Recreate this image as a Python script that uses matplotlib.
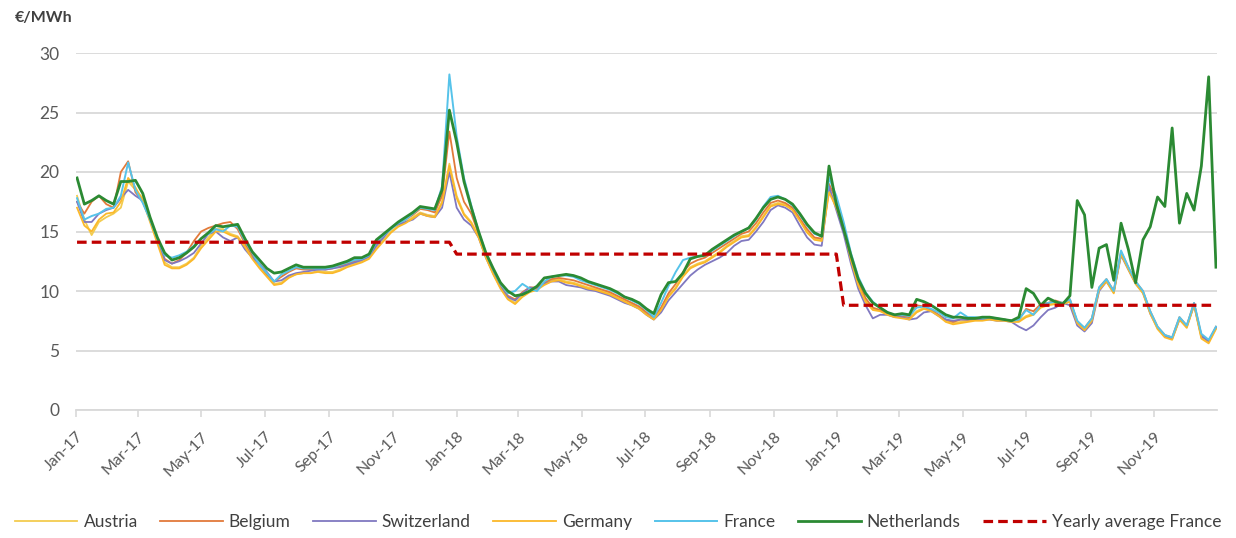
import numpy as np
import pandas as pd
import matplotlib
matplotlib.use("Agg")
import matplotlib.pyplot as plt
import matplotlib.dates as mdates

plt.rcParams["font.family"] = ["Lato", "DejaVu Sans"]

# ===== Data: weekly prices (EUR/MWh), Jan-2017 .. Dec-2019 =====
weeks = pd.date_range("2017-01-02", periods=157, freq="7D")

austria = [
    18.0, 16.0, 14.7, 15.8, 16.2, 16.5, 17.0, 19.2, 18.5, 17.8, 16.0, 14.2, 12.4, 12.0, 12.0, 12.3, 12.8, 13.8, 14.5, 15.2, 15.2, 14.8,
    14.6, 13.8, 12.8, 12.0, 11.3, 10.6, 10.7, 11.2, 11.4, 11.5, 11.5, 11.7, 11.6, 11.6, 11.8, 12.1, 12.3, 12.5, 12.8, 13.6, 14.3, 15.0, 15.5, 15.8,
    16.2, 16.6, 16.4, 16.3, 17.5, 20.7, 18.0, 16.5, 15.8, 14.6, 12.9, 11.5, 10.3, 9.4, 9.0, 9.6, 10.0, 10.2, 10.6, 10.9, 11.0,
    10.8, 10.7, 10.5, 10.3, 10.2, 10.0, 9.8, 9.5, 9.2, 8.9, 8.6, 8.1, 7.7, 8.5, 9.6, 10.3, 11.3, 12.0, 12.3, 12.5, 12.9, 13.3, 13.8,
    14.2, 14.6, 14.7, 15.4, 16.3, 17.2, 17.4, 17.3, 16.9, 16.0, 15.0, 14.4, 14.3, 18.5, 17.3, 15.5, 12.8, 10.7, 9.2, 8.5, 8.4, 8.1, 7.9,
    7.8, 7.7, 8.3, 8.6, 8.4, 8.0, 7.5, 7.3, 7.4, 7.5, 7.6, 7.6, 7.7, 7.6, 7.6, 7.5, 7.5, 7.9, 8.1, 8.7, 8.9, 9.0,
    9.0, 9.2, 7.4, 6.8, 7.6, 10.2, 10.9, 9.9, 13.2, 11.9, 10.7, 9.9, 8.2, 6.9, 6.2, 6.0, 7.7, 7.0, 8.9, 6.1, 5.7, 6.9,
]
belgium = [
    17.5, 16.5, 17.5, 18.0, 17.3, 17.0, 20.0, 20.9, 18.3, 17.5, 16.0, 14.3, 12.7, 12.3, 12.6, 13.2, 14.2, 15.0, 15.3, 15.5, 15.7, 15.8,
    15.2, 14.0, 13.0, 12.2, 11.4, 10.8, 11.2, 11.6, 11.9, 11.8, 11.8, 11.9, 11.8, 11.9, 12.1, 12.3, 12.5, 12.7, 13.0, 13.9, 14.6, 15.3, 15.7, 16.0,
    16.4, 16.9, 16.8, 16.6, 18.0, 23.4, 19.5, 17.5, 16.5, 14.8, 13.0, 11.6, 10.4, 9.6, 9.3, 9.9, 10.3, 10.3, 10.7, 11.0, 11.1,
    11.0, 10.9, 10.7, 10.5, 10.3, 10.1, 9.9, 9.6, 9.3, 9.0, 8.7, 8.2, 7.8, 8.6, 9.8, 10.6, 11.6, 12.3, 12.6, 12.8, 13.2, 13.6, 14.0,
    14.4, 14.8, 15.0, 15.7, 16.6, 17.4, 17.6, 17.4, 17.0, 16.1, 15.2, 14.5, 14.4, 19.0, 17.6, 15.6, 12.9, 10.8, 9.4, 8.6, 8.4, 8.1, 7.9,
    7.9, 7.8, 8.8, 8.7, 8.4, 8.0, 7.6, 7.4, 7.6, 7.6, 7.6, 7.6, 7.7, 7.6, 7.6, 7.5, 7.6, 8.5, 8.3, 8.9, 9.0, 9.2,
    9.0, 9.3, 7.4, 6.9, 7.7, 10.3, 11.0, 10.0, 13.3, 12.0, 10.8, 10.0, 8.3, 7.0, 6.3, 6.1, 7.8, 7.1, 9.0, 6.3, 5.8, 7.0,
]
switzerland = [
    17.5, 15.8, 15.8, 16.5, 16.8, 17.0, 17.8, 18.5, 18.0, 17.6, 16.0, 14.3, 12.6, 12.3, 12.5, 12.8, 13.2, 14.0, 14.8, 15.0, 14.5, 14.2,
    14.5, 13.5, 12.8, 12.3, 11.6, 10.8, 10.9, 11.3, 11.5, 11.6, 11.7, 11.8, 11.8, 11.9, 12.0, 12.2, 12.4, 12.6, 12.9, 13.8, 14.5, 15.3, 15.6, 15.8,
    16.0, 16.5, 16.3, 16.2, 17.0, 20.0, 17.0, 16.0, 15.5, 14.5, 12.8, 11.5, 10.3, 9.5, 9.2, 9.8, 10.3, 10.2, 10.6, 10.8, 10.8,
    10.5, 10.4, 10.3, 10.1, 10.0, 9.8, 9.6, 9.3, 9.0, 8.8, 8.5, 8.0, 7.6, 8.2, 9.2, 9.9, 10.6, 11.3, 11.8, 12.2, 12.5, 12.8, 13.2,
    13.8, 14.2, 14.3, 15.0, 15.8, 16.8, 17.2, 17.0, 16.6, 15.5, 14.5, 13.9, 13.8, 18.8, 16.8, 14.8, 12.3, 10.2, 8.8, 7.7, 8.0, 8.0, 7.8,
    7.8, 7.6, 7.7, 8.2, 8.3, 7.9, 7.6, 7.5, 7.6, 7.6, 7.7, 7.6, 7.6, 7.5, 7.5, 7.4, 7.0, 6.7, 7.1, 7.8, 8.4, 8.6,
    9.0, 8.8, 7.1, 6.6, 7.3, 10.0, 10.8, 9.9, 13.0, 11.8, 10.6, 9.9, 8.1, 6.9, 6.2, 6.0, 7.6, 7.0, 8.8, 6.2, 5.8, 6.9,
]
germany = [
    17.0, 15.5, 15.0, 16.0, 16.5, 16.6, 17.5, 19.5, 18.7, 17.6, 15.8, 14.0, 12.2, 11.9, 11.9, 12.2, 12.7, 13.6, 14.3, 15.0, 15.0, 14.7,
    14.5, 13.7, 12.7, 11.9, 11.2, 10.5, 10.6, 11.1, 11.4, 11.5, 11.5, 11.6, 11.5, 11.5, 11.7, 12.0, 12.2, 12.4, 12.7, 13.5, 14.2, 14.9, 15.4, 15.7,
    16.1, 16.5, 16.3, 16.2, 17.4, 20.5, 17.8, 16.4, 15.7, 14.5, 12.8, 11.4, 10.2, 9.3, 8.9, 9.5, 9.9, 10.1, 10.5, 10.8, 10.9,
    10.7, 10.6, 10.4, 10.2, 10.1, 9.9, 9.7, 9.4, 9.1, 8.8, 8.5, 8.0, 7.6, 8.4, 9.5, 10.2, 11.2, 11.9, 12.2, 12.4, 12.8, 13.2, 13.7,
    14.1, 14.5, 14.6, 15.3, 16.2, 17.1, 17.3, 17.2, 16.8, 15.9, 14.9, 14.3, 14.2, 18.3, 17.0, 15.3, 12.6, 10.5, 9.1, 8.4, 8.3, 8.0, 7.8,
    7.7, 7.6, 8.2, 8.5, 8.3, 7.9, 7.4, 7.2, 7.3, 7.4, 7.5, 7.5, 7.6, 7.5, 7.5, 7.4, 7.4, 7.8, 8.0, 8.6, 8.8, 8.9,
    8.9, 9.1, 7.3, 6.7, 7.5, 10.1, 10.8, 9.8, 13.1, 11.8, 10.6, 9.8, 8.1, 6.8, 6.1, 5.9, 7.6, 6.9, 8.8, 6.0, 5.6, 6.8,
]
france = [
    17.8, 16.0, 16.3, 16.5, 16.9, 17.0, 18.0, 20.8, 18.5, 17.4, 16.0, 14.4, 13.0, 12.8, 13.0, 13.3, 13.8, 14.4, 14.8, 15.2, 15.0, 15.5,
    15.4, 14.2, 13.2, 12.2, 11.5, 10.8, 11.4, 11.7, 12.0, 11.9, 11.9, 11.9, 11.9, 12.0, 12.2, 12.4, 12.6, 12.7, 13.0, 14.1, 14.7, 15.2, 15.7, 16.0,
    16.5, 17.0, 16.9, 16.8, 18.8, 28.2, 23.0, 19.5, 17.2, 15.0, 13.2, 11.8, 10.6, 9.8, 10.0, 10.6, 10.2, 10.0, 10.8, 11.2, 11.3,
    11.3, 11.2, 10.9, 10.7, 10.5, 10.3, 10.1, 9.8, 9.5, 9.2, 8.9, 8.4, 7.8, 9.0, 10.4, 11.6, 12.6, 12.8, 12.9, 13.0, 13.4, 13.8, 14.2,
    14.6, 15.0, 15.3, 16.0, 17.1, 17.9, 18.0, 17.7, 17.2, 16.4, 15.5, 14.8, 14.6, 19.5, 18.0, 15.8, 13.2, 11.2, 9.9, 9.1, 8.6, 8.2, 8.0,
    8.0, 7.9, 8.6, 8.7, 8.5, 8.2, 7.8, 7.7, 8.2, 7.8, 7.8, 7.7, 7.8, 7.7, 7.6, 7.5, 7.6, 8.4, 8.0, 8.8, 9.0, 9.1,
    9.0, 9.3, 7.5, 6.9, 7.7, 10.3, 11.0, 10.0, 13.4, 12.0, 10.8, 10.0, 8.3, 7.0, 6.3, 6.1, 7.8, 7.1, 9.0, 6.4, 5.9, 7.0,
]
netherlands = [
    19.5, 17.3, 17.6, 18.0, 17.6, 17.3, 19.2, 19.2, 19.3, 18.2, 16.2, 14.5, 13.2, 12.6, 12.8, 13.2, 13.7, 14.4, 14.9, 15.5, 15.4, 15.5,
    15.6, 14.4, 13.3, 12.6, 11.9, 11.5, 11.6, 11.9, 12.2, 12.0, 12.0, 12.0, 12.0, 12.1, 12.3, 12.5, 12.8, 12.8, 13.1, 14.3, 14.8, 15.3, 15.8, 16.2,
    16.6, 17.1, 17.0, 16.9, 18.5, 25.2, 22.5, 19.2, 17.0, 15.0, 13.2, 11.9, 10.7, 10.0, 9.6, 9.7, 10.0, 10.4, 11.1, 11.2, 11.3,
    11.4, 11.3, 11.1, 10.8, 10.6, 10.4, 10.2, 9.9, 9.5, 9.3, 9.0, 8.5, 8.1, 9.7, 10.7, 10.8, 11.5, 12.7, 12.9, 13.0, 13.5, 13.9, 14.3,
    14.7, 15.0, 15.3, 16.1, 17.0, 17.7, 17.9, 17.7, 17.3, 16.5, 15.6, 14.9, 14.6, 20.5, 17.3, 15.2, 13.0, 11.0, 9.8, 9.0, 8.6, 8.2, 8.0,
    8.1, 8.0, 9.3, 9.1, 8.8, 8.4, 8.0, 7.8, 7.8, 7.7, 7.7, 7.8, 7.8, 7.7, 7.6, 7.5, 7.8, 10.2, 9.8, 8.8, 9.4, 9.1,
    8.9, 9.6, 17.6, 16.4, 10.3, 13.6, 13.9, 10.9, 15.7, 13.5, 10.7, 14.3, 15.4, 17.9, 17.1, 23.7, 15.7, 18.2, 16.8, 20.5, 28.0, 12.0,
]

# yearly average France
avg_years = [2017, 2018, 2019]
avg_values = [14.1, 13.1, 8.8]
yearly_avg = np.array(weeks.year.map(dict(zip(avg_years, avg_values))), dtype=float)

series = [
    ("Austria", austria, "#f3cc4f", 1.3),
    ("Belgium", belgium, "#e27a3a", 1.3),
    ("Switzerland", switzerland, "#8078c0", 1.3),
    ("Germany", germany, "#fbb829", 1.3),
    ("France", france, "#56c3ea", 1.4),
    ("Netherlands", netherlands, "#2b8a33", 2.0),
]

fig = plt.figure(figsize=(12.36, 5.38), dpi=100)
ax = fig.add_axes([76 / 1236, 128 / 538, 1141 / 1236, 357 / 538])

for name, vals, color, lw in series:
    ax.plot(weeks, vals, color=color, linewidth=lw, label=name)
ax.plot(weeks, yearly_avg, color="#c00000", linewidth=2.3, linestyle=(0, (3, 1.6)),
        label="Yearly average France")

ax.set_ylim(0, 30)
ax.set_yticks(range(0, 31, 5))
ax.set_xlim(pd.Timestamp("2017-01-01"), pd.Timestamp("2019-12-31"))
ax.xaxis.set_major_locator(mdates.MonthLocator(bymonth=[1, 3, 5, 7, 9, 11]))
ax.xaxis.set_major_formatter(mdates.DateFormatter("%b-%y"))

ax.grid(axis="y", color="#d9d9d9", linewidth=1.3)
ax.set_axisbelow(True)
for s in ["left", "right", "top"]:
    ax.spines[s].set_visible(False)
ax.spines["bottom"].set_color("#d9d9d9")
ax.spines["bottom"].set_linewidth(1.3)
ax.tick_params(axis="y", length=0, labelsize=12.5, labelcolor="#595959", pad=12)
ax.tick_params(axis="x", length=5, color="#d9d9d9", width=1.2, labelsize=11.5,
               labelcolor="#595959", pad=9)
for lab in ax.get_xticklabels():
    lab.set_rotation(45)
    lab.set_ha("right")
    lab.set_rotation_mode("anchor")

fig.text(15 / 1236, 1 - 18 / 538, "€/MWh", fontsize=11.5, fontweight="bold",
         color="#404040", va="center", ha="left")

fig.legend(loc="lower center", bbox_to_anchor=(0.5, -0.015), ncol=7, frameon=False,
           fontsize=12.5, handlelength=3.6, columnspacing=1.3, handletextpad=0.35,
           labelcolor="#404040")

fig.savefig("out.png", dpi=100)
